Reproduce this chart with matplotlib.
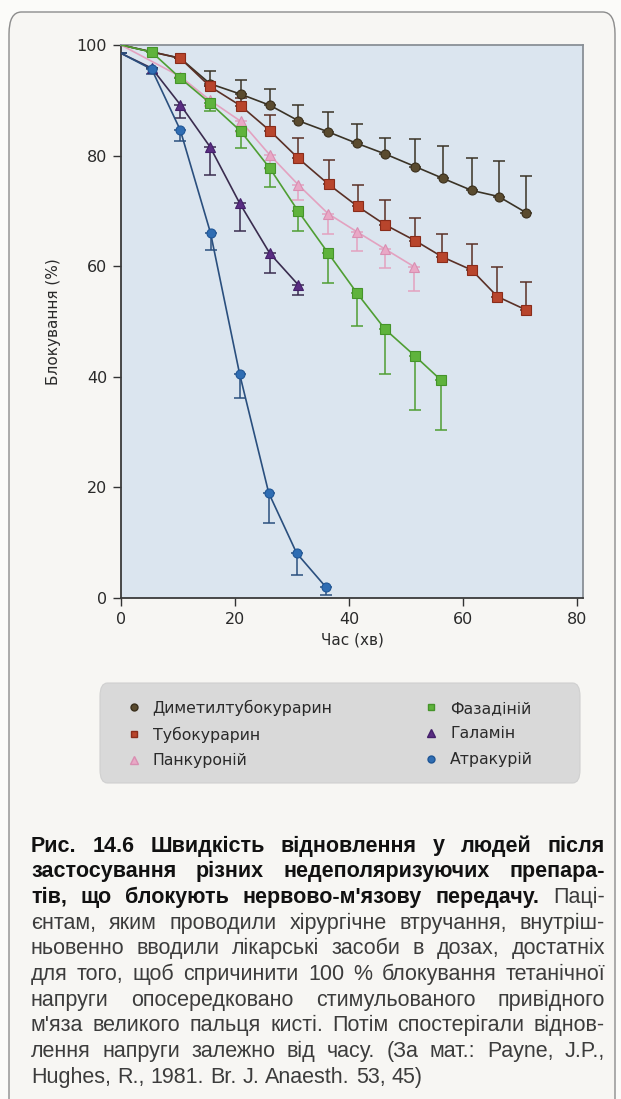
import matplotlib
matplotlib.use("Agg")
import matplotlib.pyplot as plt
from matplotlib.lines import Line2D
from matplotlib.patches import FancyBboxPatch

# --- data (time in min, block in %) ---
names = ['Диметилтубокурарин', 'Тубокурарин', 'Панкуроній',
         'Фазадіній', 'Галамін', 'Атракурій']

brown_t = [0, 10.4, 15.6, 21.0, 26.1, 31.1, 36.3, 41.4, 46.3, 51.6, 56.4, 61.5, 66.2, 71.0]
brown_y = [100, 97.6, 93.0, 91.1, 89.1, 86.3, 84.3, 82.2, 80.3, 78.0, 75.9, 73.7, 72.6, 69.7]
brown_err = [0, 0, 2.3, 2.6, 2.9, 2.8, 3.5, 3.6, 2.8, 5.0, 5.8, 5.8, 6.4, 6.7]

red_t = [0, 10.4, 15.6, 21.0, 26.1, 31.1, 36.4, 41.5, 46.3, 51.6, 56.3, 61.5, 66.0, 71.0]
red_y = [100, 97.6, 92.5, 89.0, 84.5, 79.5, 74.8, 70.8, 67.5, 64.6, 61.7, 59.3, 54.5, 52.1]
red_err = [0, 0, 0, 1.5, 2.8, 3.6, 4.4, 3.9, 4.5, 4.2, 4.2, 4.7, 5.3, 5.1]

pink_t = [0, 10.4, 15.6, 21.0, 26.1, 31.1, 36.3, 41.4, 46.3, 51.4]
pink_y = [100, 94.3, 90.0, 86.2, 80.1, 74.7, 69.5, 66.2, 63.1, 59.9]
pink_err = [0, 0, 1.0, 2.0, 2.5, 2.7, 3.6, 3.4, 3.5, 4.3]

green_t = [0, 5.4, 10.4, 15.6, 21.0, 26.1, 31.1, 36.3, 41.4, 46.3, 51.5, 56.1]
green_y = [100, 98.7, 94.0, 89.5, 84.4, 77.7, 69.9, 62.4, 55.1, 48.6, 43.8, 39.4]
green_err = [0, 0, 0, 1.5, 3.0, 3.3, 3.6, 5.5, 6.0, 8.1, 9.8, 9.0]

purple_t = [0, 5.4, 10.4, 15.6, 20.8, 26.1, 31.1]
purple_y = [98.5, 95.8, 89.2, 81.6, 71.4, 62.3, 56.6]
purple_err = [0, 0, 2.4, 5.1, 5.1, 3.5, 1.8]

blue_t = [0, 5.4, 10.4, 15.7, 20.8, 25.9, 30.8, 35.9]
blue_y = [98.5, 95.6, 84.6, 66.0, 40.5, 19.0, 8.1, 2.0]
blue_err = [0, 0.8, 2.0, 3.0, 4.4, 5.4, 3.9, 1.5]

x_ticks = [0, 20, 40, 60, 80]
y_ticks = [0, 20, 40, 60, 80, 100]

caption = [
    [("Рис. 14.6 Швидкість відновлення у людей після", "bold")],
    [("застосування різних недеполяризуючих препара-", "bold")],
    [("тів, що блокують нервово-м'язову передачу.", "bold"), ("Паці-", "normal")],
    [("єнтам, яким проводили хірургічне втручання, внутріш-", "normal")],
    [("ньовенно вводили лікарські засоби в дозах, достатніх", "normal")],
    [("для того, щоб спричинити 100 % блокування тетанічної", "normal")],
    [("напруги опосередковано стимульованого привідного", "normal")],
    [("м'яза великого пальця кисті. Потім спостерігали віднов-", "normal")],
    [("лення напруги залежно від часу. (За мат.: Payne, J.P.,", "normal")],
    [("Hughes, R., 1981. Br. J. Anaesth. 53, 45)", "normal")],
]

# style per series: (t, y, err, upward?, marker, face, edge, line colour, size)
series = [
    (brown_t, brown_y, brown_err, True, 'o', '#5a4b2f', '#3a2f1c', '#3a3326', 6.5),
    (red_t, red_y, red_err, True, 's', '#b8452c', '#8a2c1a', '#5a3026', 6.5),
    (pink_t, pink_y, pink_err, False, '^', '#e9a8c6', '#d98fb2', '#e3a2c0', 7.5),
    (green_t, green_y, green_err, False, 's', '#5fb33c', '#45942a', '#4f9e33', 6.5),
    (purple_t, purple_y, purple_err, False, '^', '#5a2d82', '#44206a', '#3a2c4f', 7.5),
    (blue_t, blue_y, blue_err, False, 'o', '#2f6db3', '#1f5696', '#2a4f7e', 6.5),
]

W, H = 621, 1099
fig = plt.figure(figsize=(W / 100, H / 100), dpi=100)
fig.patch.set_facecolor('#fbfbf9')

# page frame
fig.patches.append(FancyBboxPatch((9 / W, -0.02), 606 / W, 1 - 12 / H + 0.02,
                                  boxstyle="round,pad=0,rounding_size=0.02",
                                  transform=fig.transFigure, facecolor='#f7f6f3',
                                  edgecolor='#8c8c8c', linewidth=1.0, zorder=-5))

ax = fig.add_axes([121 / W, 1 - 598 / H, 462 / W, 553 / H])
ax.set_facecolor('#dbe5ef')
ax.set_xlim(0, 81)
ax.set_ylim(0, 100)

for t, y, err, up, mk, fc, ec, lc, ms in series:
    lower = [0 if up else e for e in err]
    upper = [e if up else 0 for e in err]
    ax.errorbar(t, y, yerr=[lower, upper], fmt='none', ecolor=lc,
                elinewidth=1.1, capsize=4.5, capthick=1.1, zorder=2)
    ax.plot(t, y, color=lc, lw=1.2, marker=mk, ms=ms, mfc=fc, mec=ec,
            mew=0.8, markevery=list(range(1, len(t))), zorder=3)

ax.set_xticks(x_ticks)
ax.set_yticks(y_ticks)
ax.tick_params(direction='out', length=6, width=1, colors='#333333',
               labelsize=11.5, labelcolor='#2a2a2a', pad=4)
for s in ['left', 'bottom']:
    ax.spines[s].set_color('#3a3a3a')
    ax.spines[s].set_linewidth(1.3)
for s in ['top', 'right']:
    ax.spines[s].set_color('#8a9096')
    ax.spines[s].set_linewidth(1.3)
ax.set_xlabel('Час (хв)', fontsize=11, color='#2a2a2a', labelpad=4)
ax.set_ylabel('Блокування (%)', fontsize=11, color='#2a2a2a', labelpad=11)

# legend box drawn by hand, legend itself unframed
fig.patches.append(FancyBboxPatch((100 / W, 1 - 783 / H), 480 / W, 100 / H,
                                  boxstyle="round,pad=0,rounding_size=0.012",
                                  transform=fig.transFigure, facecolor='#d9d9d9',
                                  edgecolor='#d0d0d0', linewidth=0.8, zorder=0))
handles = [Line2D([], [], ls='none', marker=s[4], ms=s[8] - 1.5, mfc=s[5], mec=s[6])
           for s in series]
leg = fig.legend(handles, names, ncol=2, loc='center left',
                 bbox_to_anchor=(118 / W, 1 - 734 / H), frameon=False,
                 fontsize=11.3, columnspacing=5.8, handlelength=1.0,
                 handletextpad=0.7, labelspacing=0.68, borderpad=0.0)
for txt in leg.get_texts():
    txt.set_color('#2a2a2a')

# caption, justified line by line
renderer = fig.canvas.get_renderer()
x0, x1 = 31, 605
y0, dy = 846, 25.7
fs = 15.5
for i, line in enumerate(caption):
    words = []
    for seg, wt in line:
        for w in seg.split():
            words.append((w, wt))
    arts = []
    for w, wt in words:
        a = fig.text(0, 0, w, fontsize=fs, fontweight=wt, family='Liberation Sans',
                     color='#111111' if wt == 'bold' else '#3c3c3c',
                     va='center', ha='left')
        arts.append(a)
    widths = [a.get_window_extent(renderer).width for a in arts]
    if i < len(caption) - 1 and len(arts) > 1:
        gap = (x1 - x0 - sum(widths)) / (len(arts) - 1)
    else:
        gap = fs * 100 / 72 * 0.28
    x = x0
    yy = 1 - (y0 + i * dy) / H
    for a, wdt in zip(arts, widths):
        a.set_position((x / W, yy))
        x += wdt + gap

fig.savefig('out.png', dpi=100, facecolor=fig.get_facecolor())
